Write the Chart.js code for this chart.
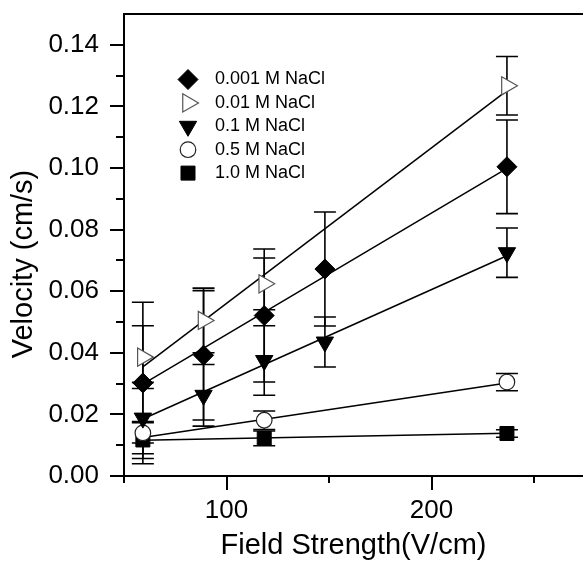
<!DOCTYPE html>
<html>
<head>
<meta charset="utf-8">
<script src="https://cdn.jsdelivr.net/npm/chart.js@4.4.1/dist/chart.umd.min.js"></script>
<style>
  html, body { margin: 0; padding: 0; background: #fff; }
  #wrap { width: 583px; height: 566px; }
</style>
</head>
<body>
<div id="wrap"><canvas id="velocityChart" width="583" height="566"></canvas></div>
<script>
// ================= DATA =================
// field strength (V/cm) used for each concentration
const fieldAll = [59.2, 88.8, 118.4, 148, 236.8];
const fieldFour = [59.2, 88.8, 118.4, 236.8];
const fieldThree = [59.2, 118.4, 236.8];

// velocity (cm/s) and its error, one pair per NaCl concentration
const vel0001 = [0.0302, 0.0392, 0.0521, 0.0672, 0.1004];
const err0001 = [0.0262, 0.0210, 0.0216, 0.0185, 0.0152];
const vel001 = [0.0386, 0.0505, 0.0624, 0.1267];
const err001 = [0.0102, 0.0105, 0.0084, 0.0095];
const vel01 = [0.0188, 0.0262, 0.0375, 0.0435, 0.0725];
const err01 = [0.0116, 0.0100, 0.0113, 0.0081, 0.0080];
const vel05 = [0.0140, 0.0181, 0.0305];
const err05 = [0.0033, 0.0030, 0.0028];
const vel10 = [0.0117, 0.0122, 0.0138];
const err10 = [0.0060, 0.0024, 0.0012];

// linear fit lines, value at first and last field strength
const fitField = [59.2, 236.8];
const fit0001 = [0.0298, 0.0999];
const fit001 = [0.0354, 0.1251];
const fit01 = [0.0185, 0.0715];
const fit05 = [0.0125, 0.0302];
const fit10 = [0.0116, 0.0139];

const seriesLabels = ["0.001 M NaCl", "0.01 M NaCl", "0.1 M NaCl", "0.5 M NaCl", "1.0 M NaCl"];

// axis ticks
const xMajorTicks = [100, 200];
const xMinorTicks = [50, 150, 250];
const yMajorTicks = [0, 0.02, 0.04, 0.06, 0.08, 0.10, 0.12, 0.14];
const yMinorTicks = [0.01, 0.03, 0.05, 0.07, 0.09, 0.11, 0.13];

const FONT = '"Liberation Sans", Arial, Helvetica, sans-serif';
Chart.defaults.font.family = FONT;
Chart.defaults.color = "#000";

const toPoints = (xs, ys) => xs.map((x, i) => ({ x, y: ys[i] }));

const markerStyles = [
  { pointStyle: "rectRot", radius: 10, rotation: 0, fill: "#000", stroke: "#000", width: 1 },
  { pointStyle: "triangle", radius: 10.5, rotation: 90, fill: "#fff", stroke: "#555", width: 1.2 },
  { pointStyle: "triangle", radius: 10, rotation: 180, fill: "#000", stroke: "#000", width: 1 },
  { pointStyle: "circle", radius: 7.8, rotation: 0, fill: "#fff", stroke: "#222", width: 1.2 },
  { pointStyle: "rect", radius: 9.9, rotation: 0, fill: "#000", stroke: "#000", width: 1 }
];

const markerData = [
  toPoints(fieldAll, vel0001),
  toPoints(fieldFour, vel001),
  toPoints(fieldAll, vel01),
  toPoints(fieldThree, vel05),
  toPoints(fieldThree, vel10)
];
const errorData = [err0001, err001, err01, err05, err10];
const fitData = [fit0001, fit001, fit01, fit05, fit10];

const markerSets = markerData.map((pts, i) => ({
  label: seriesLabels[i],
  data: pts,
  order: 0,
  showLine: false,
  pointStyle: markerStyles[i].pointStyle,
  pointRotation: markerStyles[i].rotation,
  pointRadius: markerStyles[i].radius,
  pointBackgroundColor: markerStyles[i].fill,
  pointBorderColor: markerStyles[i].stroke,
  pointBorderWidth: markerStyles[i].width
}));

const fitSets = fitData.map((ys, i) => ({
  label: seriesLabels[i] + " fit",
  data: toPoints(fitField, ys),
  order: 1,
  showLine: true,
  pointRadius: 0,
  borderColor: "#000",
  borderWidth: 1.5
}));

// ================= ERROR BARS =================
const errorBars = {
  id: "errorBars",
  beforeDatasetsDraw(chart) {
    const { ctx, scales: { y } } = chart;
    const area = chart.chartArea;
    ctx.save();
    ctx.beginPath();
    ctx.rect(area.left, area.top, area.right - area.left, area.bottom - area.top);
    ctx.clip();
    ctx.strokeStyle = "#000";
    ctx.lineWidth = 1.6;
    markerData.forEach((pts, i) => {
      const meta = chart.getDatasetMeta(i);
      meta.data.forEach((el, j) => {
        const v = pts[j].y, e = errorData[i][j];
        const top = y.getPixelForValue(v + e);
        const bot = y.getPixelForValue(v - e);
        ctx.beginPath();
        ctx.moveTo(el.x, top); ctx.lineTo(el.x, bot);
        ctx.moveTo(el.x - 11, top); ctx.lineTo(el.x + 11, top);
        ctx.moveTo(el.x - 11, bot); ctx.lineTo(el.x + 11, bot);
        ctx.stroke();
      });
    });
    ctx.restore();
  }
};

// ================= FRAME, TICKS, LEGEND =================
const frameAndLegend = {
  id: "frameAndLegend",
  afterDraw(chart) {
    const { ctx, chartArea: a, scales: { x, y } } = chart;
    ctx.save();
    ctx.strokeStyle = "#000";
    ctx.lineWidth = 2;
    ctx.beginPath();
    ctx.moveTo(a.right, a.top); ctx.lineTo(a.left, a.top);
    ctx.lineTo(a.left, a.bottom); ctx.lineTo(a.right, a.bottom);
    yMajorTicks.forEach(v => {
      const py = Math.round(y.getPixelForValue(v));
      ctx.moveTo(a.left - 14, py); ctx.lineTo(a.left, py);
    });
    yMinorTicks.forEach(v => {
      const py = Math.round(y.getPixelForValue(v));
      ctx.moveTo(a.left - 8, py); ctx.lineTo(a.left, py);
    });
    xMajorTicks.forEach(v => {
      const px = Math.round(x.getPixelForValue(v));
      ctx.moveTo(px, a.bottom); ctx.lineTo(px, a.bottom + 14);
    });
    xMinorTicks.forEach(v => {
      const px = Math.round(x.getPixelForValue(v));
      ctx.moveTo(px, a.bottom); ctx.lineTo(px, a.bottom + 7);
    });
    ctx.stroke();

    // y axis title
    ctx.fillStyle = "#000";
    ctx.font = "29px " + FONT;
    ctx.textAlign = "center";
    ctx.textBaseline = "middle";
    ctx.translate(24, 264);
    ctx.rotate(-Math.PI / 2);
    ctx.fillText("Velocity (cm/s)", 0, 0);
    ctx.restore();

    // legend
    ctx.save();
    ctx.font = "18px " + FONT;
    ctx.textBaseline = "middle";
    ctx.textAlign = "left";
    seriesLabels.forEach((label, i) => {
      const s = markerStyles[i];
      const ly = 79.5 + i * 23.4;
      ctx.fillStyle = s.fill;
      ctx.strokeStyle = s.stroke;
      ctx.lineWidth = s.width;
      Chart.helpers.drawPoint(ctx, {
        pointStyle: s.pointStyle, rotation: s.rotation,
        radius: s.radius, borderWidth: s.width
      }, 188, ly);
      ctx.fillStyle = "#000";
      ctx.fillText(label, 215, ly);
    });
    ctx.restore();
  }
};

new Chart(document.getElementById("velocityChart"), {
  type: "scatter",
  data: { datasets: [...markerSets, ...fitSets] },
  options: {
    responsive: false,
    animation: false,
    devicePixelRatio: 1,
    layout: { autoPadding: false, padding: { top: 14, right: 0, left: 0, bottom: 0 } },
    plugins: { legend: { display: false }, tooltip: { enabled: false } },
    scales: {
      x: {
        type: "linear",
        min: 50,
        max: 273.9,
        grid: { display: false, drawTicks: false },
        border: { display: false },
        ticks: { font: { size: 26 }, color: "#000", padding: 19, maxRotation: 0, autoSkip: false },
        afterBuildTicks: s => { s.ticks = xMajorTicks.map(v => ({ value: v })); },
        afterFit: s => { s.height = 90; s.paddingLeft = 0; s.paddingRight = 0; },
        title: {
          display: true,
          text: "Field Strength(V/cm)",
          font: { size: 29 },
          color: "#000",
          padding: { top: 0, bottom: 3 }
        }
      },
      y: {
        type: "linear",
        min: 0,
        max: 0.15,
        grid: { display: false, drawTicks: false },
        border: { display: false },
        ticks: {
          font: { size: 26 }, color: "#000", padding: 25, autoSkip: false,
          callback: v => v.toFixed(2)
        },
        afterBuildTicks: s => { s.ticks = yMajorTicks.map(v => ({ value: v })); },
        afterFit: s => { s.width = 124; s.paddingTop = 0; s.paddingBottom = 0; }
      }
    }
  },
  plugins: [errorBars, frameAndLegend]
});
</script>
</body>
</html>
